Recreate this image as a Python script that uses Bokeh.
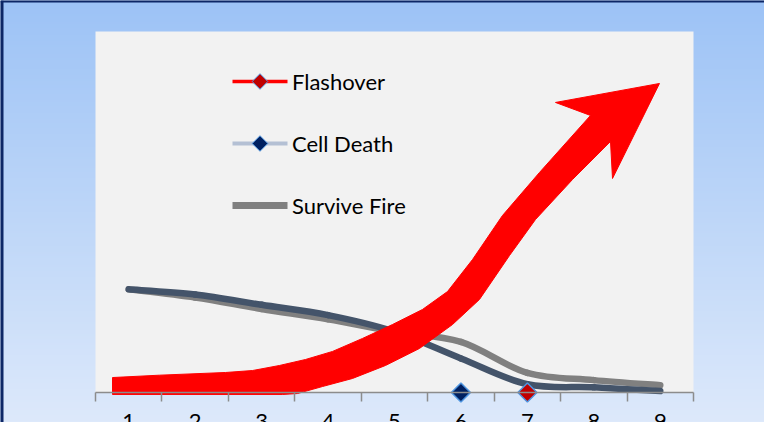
import numpy as np
from bokeh.plotting import figure
from bokeh.models import (Range1d, LinearAxis, FixedTicker, Legend, LegendItem)
from bokeh.embed import file_html
from bokeh.resources import INLINE

# ---------------- data ----------------
categories = [1, 2, 3, 4, 5, 6, 7, 8, 9]
tick_labels = ["1", "2", "3", "4", "5", "6", "7", "8", "9"]
category_bounds = [0.5, 1.5, 2.5, 3.5, 4.5, 5.5, 6.5, 7.5, 8.5, 9.5]

survive_fire = [1.00, 0.92, 0.81, 0.71, 0.59, 0.49, 0.19, 0.12, 0.07]
cell_death_curve = [1.00, 0.95, 0.85, 0.75, 0.59, 0.33, 0.08, 0.05, 0.015]

flashover_pt_x = [7]
flashover_pt_y = [0]
cell_death_pt_x = [6]
cell_death_pt_y = [0]

legend_labels = ["Flashover", "Cell Death", "Survive Fire"]
legend_line_colors = ["red", "#b4c0d4", "#808080"]
legend_line_widths = [3.5, 4, 7]
legend_marker_fills = ["#c00000", "#002060"]

# red "Flashover" arrow outline (data units)
arrow_x = [0.756, 1.463, 2.457, 2.863, 3.269, 3.661, 4.067, 4.518, 4.970, 5.421,
           5.798, 6.174, 6.625, 7.182, 7.950,
           7.423, 8.988, 8.281, 8.251,
           7.679, 7.122, 6.731, 6.279, 5.873, 5.376, 4.865, 4.368, 3.916, 3.540,
           3.314, 0.756]
arrow_y = [0.145, 0.168, 0.194, 0.213, 0.262, 0.320, 0.398, 0.524, 0.659, 0.805,
           0.979, 1.289, 1.716, 2.133, 2.686,
           2.812, 2.996, 2.075, 2.434,
           2.065, 1.677, 1.328, 0.902, 0.659, 0.427, 0.262, 0.136, 0.058, -0.010,
           -0.019, -0.019]

# off-screen anchor for the (invisible) legend renderers
legend_anchor_x = [-100]
legend_anchor_y = [-100]

# ---------------- layout ----------------
W, H = 764, 422
px_per_x = 598 / 9.0
px_per_y = 361 / 3.5
x_start = 0.5 - 95 / px_per_x
x_end = x_start + W / px_per_x
y_end = 3.5 + 31 / px_per_y
y_start = -(H - 392) / px_per_y

LEG_X, LEG_Y = 232, 202
GLYPH_W, GLYPH_H, SPACING = 55, 30, 32

p = figure(width=W, height=H, x_range=Range1d(x_start, x_end),
           y_range=Range1d(y_start, y_end), toolbar_location=None,
           output_backend="svg", x_axis_location=None, y_axis_location=None,
           min_border=0, outline_line_color=None)
p.xgrid.visible = False
p.ygrid.visible = False
p.background_fill_color = "#c0d7f8"
p.border_fill_color = "white"

# gradient background
top_c = np.array([157, 195, 246])
bot_c = np.array([221, 233, 251])
n = 200
t = np.linspace(0, 1, n)[:, None]
cols = (bot_c * (1 - t) + top_c * t).astype(np.uint32)
img = np.zeros((n, 1), dtype=np.uint32)
view = img.view(dtype=np.uint8).reshape((n, 1, 4))
view[:, 0, 0] = cols[:, 0]
view[:, 0, 1] = cols[:, 1]
view[:, 0, 2] = cols[:, 2]
view[:, 0, 3] = 255
p.image_rgba(image=[img], x=x_start, y=y_start, dw=x_end - x_start,
             dh=y_end - y_start, level="image")

# plot area
p.quad(left=category_bounds[0], right=category_bounds[-1], bottom=0, top=3.5,
       fill_color="#f2f2f2", line_color=None, level="image")

# slide border (left and top edges)
p.line([x_start, x_start], [y_start, y_end], line_color="#0d2766", line_width=6)
p.line([x_start, x_end], [y_end, y_end], line_color="#0d2766", line_width=4)


def smooth(xs, ys, tt=1 / 6):
    P = list(zip(xs, ys))
    k = len(P)
    d = dict(x0=[], y0=[], x1=[], y1=[], cx0=[], cy0=[], cx1=[], cy1=[])
    for i in range(k - 1):
        p0 = P[i - 1] if i > 0 else P[i]
        p1 = P[i]
        p2 = P[i + 1]
        p3 = P[i + 2] if i + 2 < k else P[i + 1]
        d["x0"].append(p1[0]); d["y0"].append(p1[1])
        d["x1"].append(p2[0]); d["y1"].append(p2[1])
        d["cx0"].append(p1[0] + (p2[0] - p0[0]) * tt)
        d["cy0"].append(p1[1] + (p2[1] - p0[1]) * tt)
        d["cx1"].append(p2[0] - (p3[0] - p1[0]) * tt)
        d["cy1"].append(p2[1] - (p3[1] - p1[1]) * tt)
    return d


sg = smooth(categories, survive_fire)
p.bezier(x0=sg["x0"], y0=sg["y0"], x1=sg["x1"], y1=sg["y1"], cx0=sg["cx0"],
         cy0=sg["cy0"], cx1=sg["cx1"], cy1=sg["cy1"], line_color="#808080",
         line_width=6.5, line_cap="round")
sc = smooth(categories, cell_death_curve)
p.bezier(x0=sc["x0"], y0=sc["y0"], x1=sc["x1"], y1=sc["y1"], cx0=sc["cx0"],
         cy0=sc["cy0"], cx1=sc["cx1"], cy1=sc["cy1"], line_color="#44546a",
         line_width=6.5, line_cap="round")

# x axis
axis = LinearAxis(fixed_location=0, bounds=(category_bounds[0], category_bounds[-1]),
                  ticker=FixedTicker(ticks=categories, minor_ticks=category_bounds))
axis.major_label_overrides = {c: l for c, l in zip(categories, tick_labels)}
axis.axis_line_color = "#8c8c8c"
axis.axis_line_width = 1.5
axis.major_tick_line_color = None
axis.major_tick_out = 0
axis.major_tick_in = 0
axis.minor_tick_line_color = "#8c8c8c"
axis.minor_tick_line_width = 1.5
axis.minor_tick_in = 0
axis.minor_tick_out = 9
axis.major_label_standoff = 12
axis.major_label_text_font = "Lato"
axis.major_label_text_font_size = "22px"
axis.major_label_text_color = "black"
p.add_layout(axis, "below")

# red arrow
p.patch(arrow_x, arrow_y, fill_color="red", line_color="red", line_width=1)

# markers on axis
p.scatter(cell_death_pt_x, cell_death_pt_y, marker="square", angle=np.pi / 4,
          size=13.5, fill_color="#002060", line_color="#4f95e0", line_width=1.5)
p.scatter(flashover_pt_x, flashover_pt_y, marker="square", angle=np.pi / 4,
          size=13.5, fill_color="#c00000", line_color="#4f95e0", line_width=1.5)

# legend (labels); its glyphs are drawn below as overlay marks
leg_renderers = [p.line(legend_anchor_x, legend_anchor_y, line_alpha=0) for _ in legend_labels]
legend = Legend(items=[LegendItem(label=lab, renderers=[r])
                       for lab, r in zip(legend_labels, leg_renderers)],
                location=(LEG_X, LEG_Y))
legend.glyph_width = GLYPH_W
legend.glyph_height = GLYPH_H
legend.spacing = SPACING
legend.padding = 0
legend.margin = 0
legend.label_standoff = 5
legend.label_text_font = "Lato"
legend.label_text_font_size = "22px"
legend.label_text_color = "black"
legend.border_line_color = None
legend.background_fill_alpha = 0
p.add_layout(legend)

# legend glyphs, positioned from the legend layout
leg_top = H - LEG_Y - (3 * GLYPH_H + 2 * SPACING)
gx0 = x_start + LEG_X / px_per_x
gx1 = x_start + (LEG_X + GLYPH_W) / px_per_x
gxc = x_start + (LEG_X + GLYPH_W / 2) / px_per_x
gy = [y_end - (leg_top + GLYPH_H / 2 + i * (GLYPH_H + SPACING)) / px_per_y
      for i in range(len(legend_labels))]
p.segment(x0=[gx0] * 3, y0=gy, x1=[gx1] * 3, y1=gy, line_color=legend_line_colors,
          line_width=legend_line_widths, level="overlay")
p.scatter([gxc, gxc], gy[:2], marker="square", angle=np.pi / 4, size=11,
          fill_color=legend_marker_fills, line_color="#4f95e0", line_width=1,
          level="overlay")

open("out.html", "w").write(file_html(p, INLINE))
